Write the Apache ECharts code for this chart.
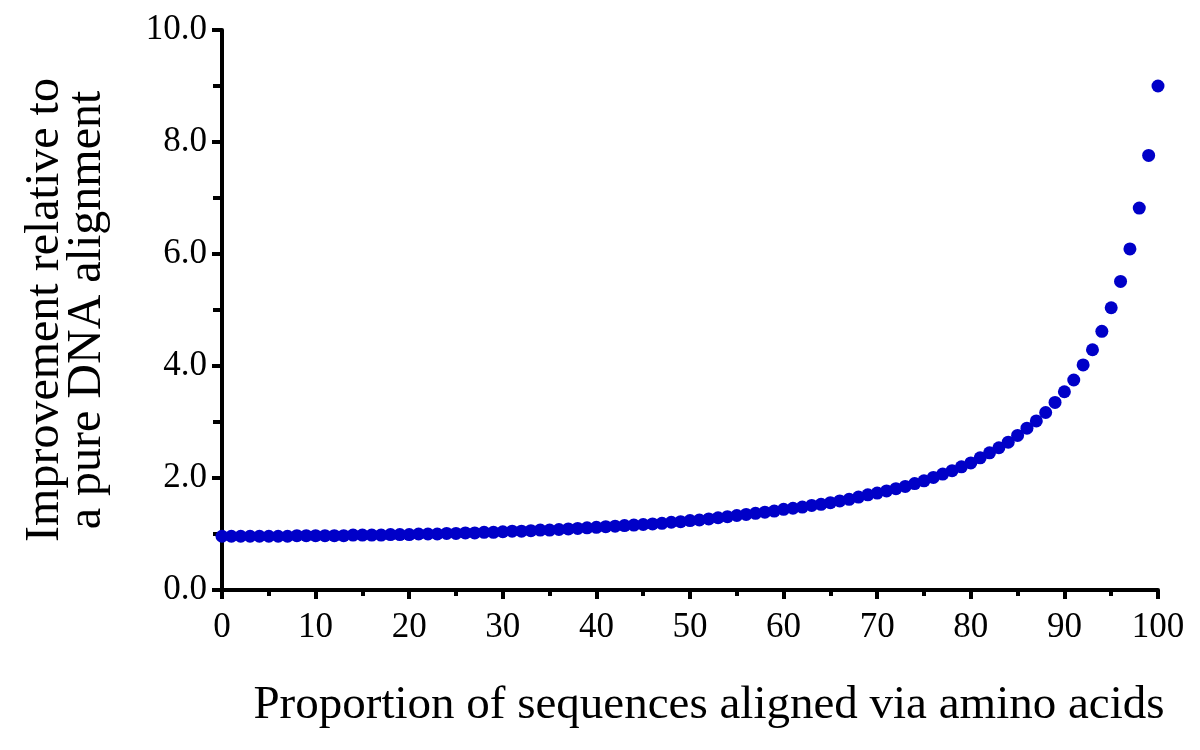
<!DOCTYPE html>
<html>
<head>
<meta charset="utf-8">
<script src="https://cdn.jsdelivr.net/npm/echarts@6/dist/echarts.min.js"></script>
<style>html,body{margin:0;padding:0;background:#fff;}#chart{width:1200px;height:750px;}</style>
</head>
<body>
<div id="chart"></div>
<script>
// Proportion of sequences aligned via amino acids (%)
const proportion = [0,1,2,3,4,5,6,7,8,9,10,11,12,13,14,15,16,17,18,19,20,21,22,23,24,25,26,27,28,29,30,31,32,33,34,35,36,37,38,39,40,41,42,43,44,45,46,47,48,49,50,51,52,53,54,55,56,57,58,59,60,61,62,63,64,65,66,67,68,69,70,71,72,73,74,75,76,77,78,79,80,81,82,83,84,85,86,87,88,89,90,91,92,93,94,95,96,97,98,99,100];
// Improvement relative to a pure DNA alignment
const improvement = [
  0.96,0.96,0.96,0.96,0.96,0.96,0.96,0.96,0.97,0.97,0.97,
  0.97,0.97,0.97,0.98,0.98,0.98,0.98,0.99,0.99,0.99,
  1.00,1.00,1.00,1.01,1.01,1.02,1.02,1.03,1.03,1.04,
  1.05,1.05,1.06,1.07,1.07,1.08,1.09,1.10,1.11,1.12,
  1.13,1.14,1.15,1.16,1.17,1.18,1.19,1.21,1.22,1.24,
  1.25,1.27,1.29,1.31,1.33,1.35,1.37,1.39,1.41,1.44,
  1.46,1.48,1.51,1.53,1.56,1.59,1.62,1.66,1.70,1.73,
  1.77,1.81,1.85,1.90,1.95,2.01,2.07,2.13,2.20,2.27,
  2.36,2.45,2.54,2.64,2.76,2.89,3.02,3.17,3.35,3.54,
  3.75,4.02,4.29,4.62,5.04,5.51,6.09,6.82,7.76,9.00
];
const xTitle = 'Proportion of sequences aligned via amino acids';
const yTitle = 'Improvement relative to\na pure DNA alignment';

const chart = echarts.init(document.getElementById('chart'), null, {renderer: 'canvas'});
const font = 'Liberation Serif';
chart.setOption({
  animation: false,
  backgroundColor: '#ffffff',
  grid: {left: 222, right: 42, top: 30, bottom: 160, containLabel: false},
  xAxis: {
    type: 'value', min: 0, max: 100, interval: 10,
    name: xTitle, nameLocation: 'middle', nameGap: 92,
    nameTextStyle: {fontFamily: font, fontSize: 47, color: '#000', padding: [0, 0, 0, 38]},
    axisLine: {show: true, onZero: false, lineStyle: {color: '#000', width: 4}},
    axisTick: {show: true, length: 9, lineStyle: {color: '#000', width: 4}},
    minorTick: {show: true, splitNumber: 2, length: 6, lineStyle: {color: '#000', width: 4}},
    axisLabel: {fontFamily: font, fontSize: 35, color: '#000', margin: 20},
    splitLine: {show: false}
  },
  yAxis: {
    type: 'value', min: 0, max: 10, interval: 2,
    name: yTitle, nameLocation: 'middle', nameGap: 114, nameRotate: 90,
    nameTextStyle: {fontFamily: font, fontSize: 48, color: '#000', lineHeight: 42},
    axisLine: {show: true, lineStyle: {color: '#000', width: 4}},
    axisTick: {show: true, length: 10, lineStyle: {color: '#000', width: 4}},
    minorTick: {show: true, splitNumber: 2, length: 9, lineStyle: {color: '#000', width: 4}},
    axisLabel: {fontFamily: font, fontSize: 35, color: '#000', margin: 15,
      formatter: v => v.toFixed(1)},
    splitLine: {show: false}
  },
  series: [{
    type: 'scatter',
    data: proportion.map((p, i) => [p, improvement[i]]),
    symbol: 'circle', symbolSize: 13,
    itemStyle: {color: '#0000c8', opacity: 1},
    clip: false
  }]
});
</script>
</body>
</html>
